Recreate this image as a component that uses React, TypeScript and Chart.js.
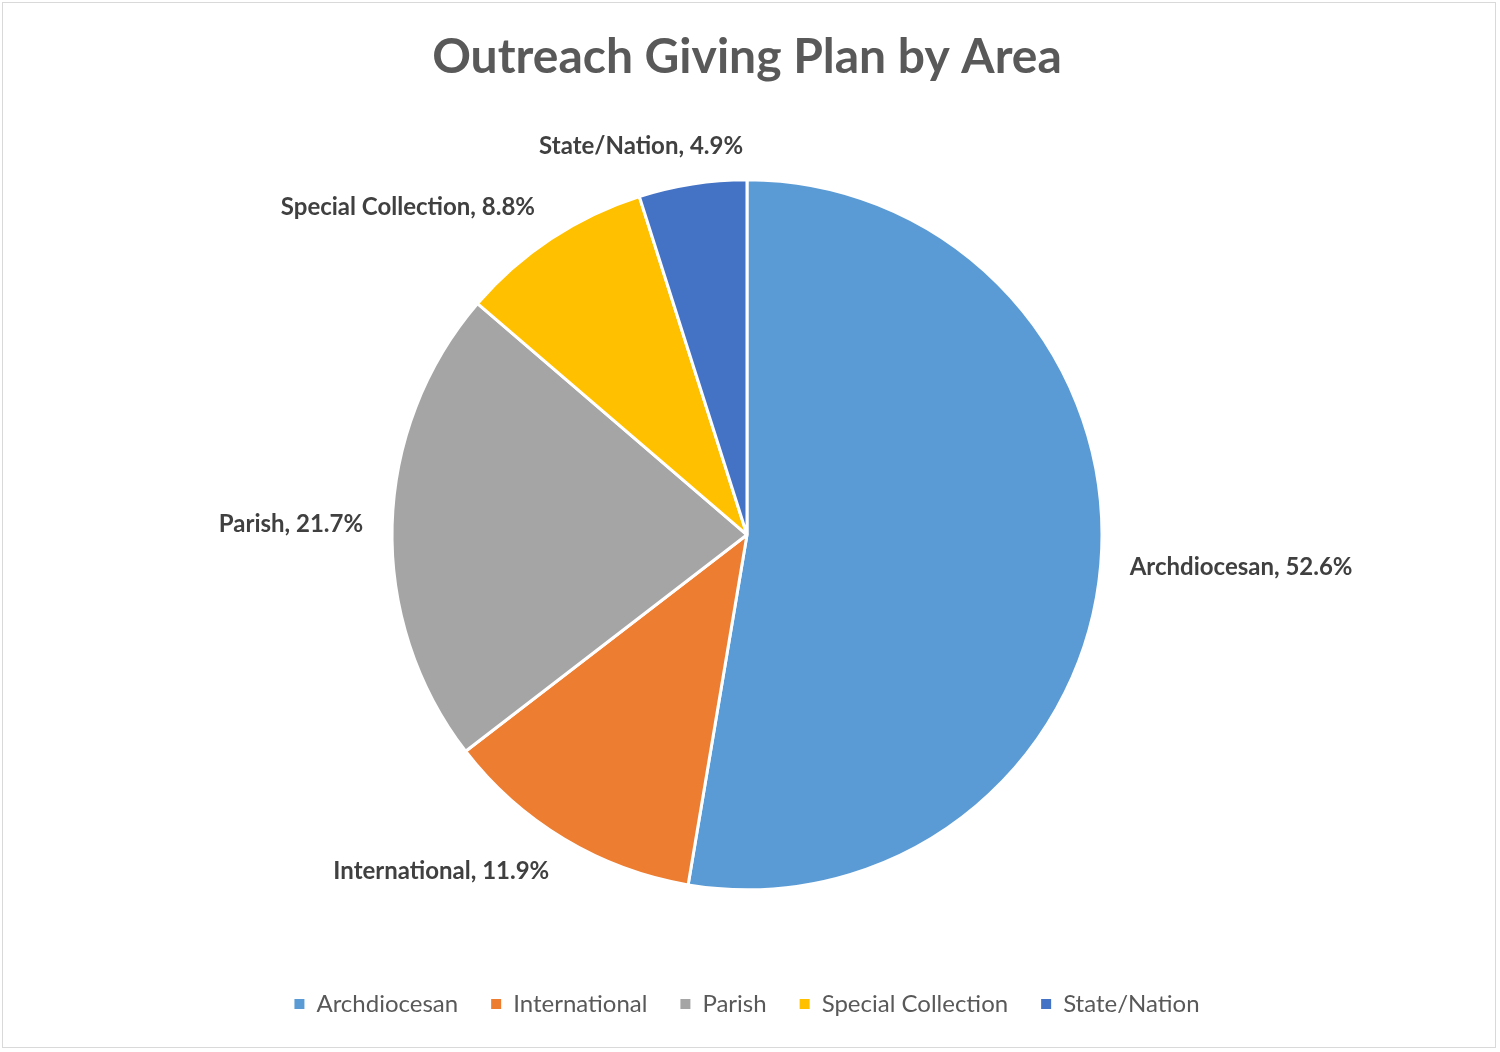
import { useEffect, useRef } from "react"
import { Chart, registerables } from "chart.js"

Chart.register(...registerables)

const areas = ["Archdiocesan", "International", "Parish", "Special Collection", "State/Nation"]
const shares = [52.6, 11.9, 21.7, 8.8, 4.9]
const colors = ["#5B9BD5", "#ED7D31", "#A5A5A5", "#FFC000", "#4472C4"]

const FONT = "Lato, 'Open Sans', sans-serif"

// Excel-style outside-end labels: "Name, 12.3%"
const outsideLabels = {
  id: "outsideLabels",
  afterDatasetsDraw(chart: Chart) {
    const ctx = chart.ctx
    const meta = chart.getDatasetMeta(0)
    ctx.save()
    ctx.font = `bold 24px ${FONT}`
    ctx.fillStyle = "#404040"
    ctx.textAlign = "center"
    ctx.textBaseline = "middle"
    meta.data.forEach((arc: any, i: number) => {
      const { x, y, startAngle, endAngle, outerRadius } = arc.getProps(
        ["x", "y", "startAngle", "endAngle", "outerRadius"],
        true
      )
      const mid = (startAngle + endAngle) / 2
      const ux = Math.cos(mid)
      const uy = Math.sin(mid)
      const gap = 29
      const px = x + (outerRadius + gap) * ux
      const py = y + (outerRadius + gap) * uy
      const text = `${areas[i]}, ${shares[i].toFixed(1)}%`
      const w = ctx.measureText(text).width
      const h = 18
      const cx = px + (w / 2) * Math.max(-1, Math.min(1, ux * 3))
      const cy = py + (h / 2) * uy
      ctx.fillText(text, cx, cy)
    })
    ctx.restore()
  },
}

export default function App() {
  const canvasRef = useRef<HTMLCanvasElement>(null)
  const chartRef = useRef<Chart | null>(null)

  useEffect(() => {
    document.body.style.margin = "0"
    if (!canvasRef.current) return
    if (chartRef.current) chartRef.current.destroy()

    const baseLabels = (Chart.overrides as any).pie.plugins.legend.labels.generateLabels

    chartRef.current = new Chart(canvasRef.current, {
      type: "pie",
      data: {
        labels: areas,
        datasets: [
          {
            data: shares,
            backgroundColor: colors,
            borderColor: "#ffffff",
            borderWidth: 3,
            radius: 355,
          } as any,
        ],
      },
      options: {
        responsive: false,
        animation: false,
        layout: { padding: { left: 0, right: 6, top: 0, bottom: 26 } },
        plugins: {
          title: {
            display: true,
            text: "Outreach Giving Plan by Area",
            color: "#595959",
            font: { family: FONT, size: 48, weight: "bold" },
            padding: { top: 29, bottom: 24 },
          },
          legend: {
            position: "bottom",
            labels: {
              color: "#595959",
              font: { family: FONT, size: 24 },
              boxWidth: 10,
              boxHeight: 10,
              padding: 33,
              generateLabels: (chart: Chart) =>
                baseLabels(chart).map((item: any) => ({ ...item, lineWidth: 0 })),
            },
          },
          tooltip: { enabled: false },
        },
      },
      plugins: [outsideLabels],
    })

    return () => {
      if (chartRef.current) {
        chartRef.current.destroy()
        chartRef.current = null
      }
    }
  }, [])

  return (
    <div style={{ position: "relative", width: 1500, height: 1052, background: "#fff" }}>
      <canvas ref={canvasRef} width={1500} height={1052} style={{ display: "block" }} />
      <div
        style={{
          position: "absolute",
          left: 2,
          top: 2,
          width: 1492,
          height: 1044,
          border: "1px solid #d9d9d9",
          pointerEvents: "none",
        }}
      />
    </div>
  )
}
